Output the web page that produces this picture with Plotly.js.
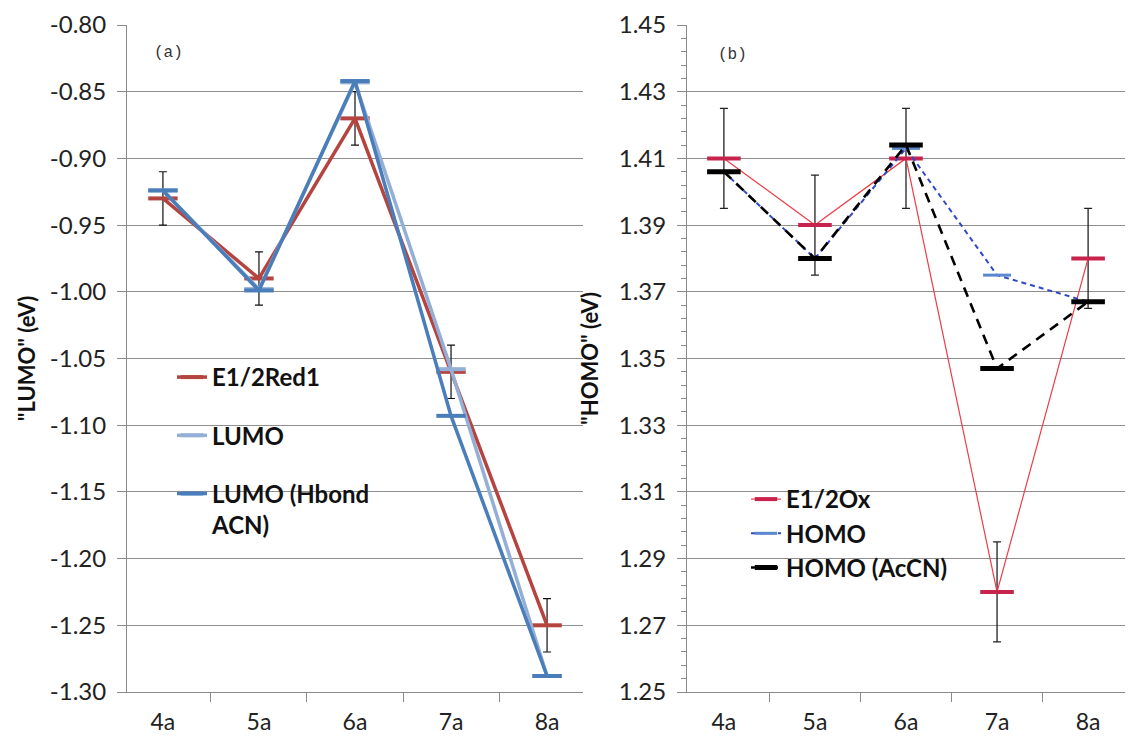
<!DOCTYPE html>
<html>
<head>
<meta charset="utf-8">
<script src="https://cdn.plot.ly/plotly-3.0.1.min.js"></script>
<style>html,body{margin:0;padding:0;background:#fff;}#chart{width:1128px;height:736px;}</style>
</head>
<body>
<div id="chart"></div>
<script>
// ---- data ----
var categories = ['4a', '5a', '6a', '7a', '8a'];
// panel (a)
var e12Red1 = [-0.93, -0.99, -0.87, -1.06, -1.25];
var e12Red1Err = [0.02, 0.02, 0.02, 0.02, 0.02];
var lumo = [-0.924, -0.998, -0.843, -1.058, -1.288];
var lumoHbond = [-0.924, -0.999, -0.842, -1.093, -1.288];
// panel (b)
var e12Ox = [1.41, 1.39, 1.41, 1.28, 1.38];
var e12OxErr = [0.015, 0.015, 0.015, 0.015, 0.015];
var homo = [1.406, 1.380, 1.413, 1.375, 1.367];
var homoAcCN = [1.406, 1.380, 1.414, 1.347, 1.367];
// tick labels
var leftTickVals = [-1.30, -1.25, -1.20, -1.15, -1.10, -1.05, -1.00, -0.95, -0.90, -0.85, -0.80];
var leftTickText = ['-1.30', '-1.25', '-1.20', '-1.15', '-1.10', '-1.05', '-1.00', '-0.95', '-0.90', '-0.85', '-0.80'];
var rightTickVals = [1.25, 1.27, 1.29, 1.31, 1.33, 1.35, 1.37, 1.39, 1.41, 1.43, 1.45];
var rightTickText = ['1.25', '1.27', '1.29', '1.31', '1.33', '1.35', '1.37', '1.39', '1.41', '1.43', '1.45'];
var seriesNames = ['E1/2Red1', 'LUMO', 'LUMO (Hbond<br>ACN)', 'E1/2Ox', 'HOMO', 'HOMO (AcCN)'];

// ---- geometry (pixels) ----
var W = 1128, H = 736;
function px(x) { return x / W; }
function py(y) { return 1 - y / H; }

var FONT = 'Lato, "Open Sans", sans-serif';
var MONO = '"Liberation Mono", "DejaVu Sans Mono", monospace';
var axisGrey = '#8a8a8a';

var traces = [
  {
    x: categories, y: e12Red1, name: seriesNames[0], type: 'scatter', mode: 'lines+markers',
    xaxis: 'x', yaxis: 'y', legend: 'legend', legendgroup: 'a1',
    line: {color: '#B5443F', width: 3.5},
    marker: {symbol: 'line-ew', size: 21, color: '#B5443F', line: {color: '#B5443F', width: 4}},
    error_y: {type: 'data', array: e12Red1Err, visible: true, color: '#111', thickness: 1.2, width: 4}
  },
  {
    x: categories, y: lumo, name: seriesNames[1], type: 'scatter', mode: 'lines+markers',
    xaxis: 'x', yaxis: 'y', legend: 'legend', legendgroup: 'a2',
    line: {color: '#93AFD6', width: 3.5},
    marker: {symbol: 'line-ew', size: 21, color: '#93AFD6', line: {color: '#93AFD6', width: 4}}
  },
  {
    x: categories, y: lumoHbond, name: seriesNames[2], type: 'scatter', mode: 'lines+markers',
    xaxis: 'x', yaxis: 'y', legend: 'legend', legendgroup: 'a3',
    line: {color: '#4A7EBB', width: 3.5},
    marker: {symbol: 'line-ew', size: 21, color: '#4A7EBB', line: {color: '#4A7EBB', width: 4}}
  },
  {
    x: categories, y: e12Ox, name: seriesNames[3], type: 'scatter', mode: 'lines+markers',
    xaxis: 'x2', yaxis: 'y2', legend: 'legend2',
    line: {color: '#EE3B45', width: 1.2},
    marker: {symbol: 'line-ew', size: 24, color: '#C8234C', line: {color: '#C8234C', width: 4}},
    error_y: {type: 'data', array: e12OxErr, visible: true, color: '#222', thickness: 1.3, width: 4}
  },
  {
    x: categories, y: homo, name: seriesNames[4], type: 'scatter', mode: 'lines+markers',
    xaxis: 'x2', yaxis: 'y2', legend: 'legend2',
    line: {color: '#3048C8', width: 2, dash: '5px,4px'},
    marker: {symbol: 'line-ew', size: 20, color: '#5A88CC', line: {color: '#5A88CC', width: 3}}
  },
  {
    x: categories, y: homoAcCN, name: seriesNames[5], type: 'scatter', mode: 'lines+markers',
    xaxis: 'x2', yaxis: 'y2', legend: 'legend2',
    line: {color: '#000', width: 2.6, dash: '10px,7px'},
    marker: {symbol: 'line-ew', size: 24, color: '#000', line: {color: '#000', width: 5}}
  }
];

function xAxis(domain, anchor) {
  return {
    domain: domain, anchor: anchor, type: 'category',
    tickson: 'boundaries', ticks: 'outside', ticklen: 9, tickcolor: axisGrey, tickwidth: 1,
    ticklabelstandoff: 9,
    showline: true, linecolor: axisGrey, linewidth: 1, showgrid: false,
    tickfont: {family: FONT, size: 23, color: '#222'}, fixedrange: true
  };
}

var yDomain = [py(692), py(25)];

var layout = {
  width: W, height: H,
  margin: {l: 0, r: 0, t: 0, b: 0, pad: 0},
  paper_bgcolor: '#fff', plot_bgcolor: '#fff',
  showlegend: true,
  xaxis: xAxis([px(127), px(583)], 'y'),
  xaxis2: xAxis([px(687), px(1125)], 'y2'),
  yaxis: {
    domain: yDomain, anchor: 'x', range: [-1.30, -0.80],
    tickmode: 'array', tickvals: leftTickVals, ticktext: leftTickText,
    ticks: 'outside', ticklen: 9, tickcolor: axisGrey, ticklabelstandoff: 6,
    showline: true, linecolor: axisGrey, showgrid: true, gridcolor: '#8f8f8f', gridwidth: 1,
    zeroline: false, tickfont: {family: FONT, size: 24, color: '#222'},
    title: {text: '"LUMO" (eV)', font: {family: FONT, size: 22, color: '#111', weight: 'bold'}, standoff: 8},
    automargin: false, fixedrange: true
  },
  yaxis2: {
    domain: yDomain, anchor: 'x2', range: [1.25, 1.45],
    tickmode: 'array', tickvals: rightTickVals, ticktext: rightTickText,
    ticks: 'outside', ticklen: 9, tickcolor: axisGrey, ticklabelstandoff: 6,
    minor: {tickmode: 'linear', dtick: 0.004, tick0: 1.25, ticks: 'outside', ticklen: 5, tickcolor: axisGrey, showgrid: false},
    showline: true, linecolor: axisGrey, showgrid: true, gridcolor: '#8f8f8f', gridwidth: 1,
    zeroline: false, tickfont: {family: FONT, size: 24, color: '#222'},
    title: {text: '"HOMO" (eV)', font: {family: FONT, size: 22, color: '#111', weight: 'bold'}, standoff: 14},
    automargin: false, fixedrange: true
  },
  legend: {
    x: px(172), y: py(355), xanchor: 'left', yanchor: 'top',
    bgcolor: 'rgba(0,0,0,0)', borderwidth: 0,
    traceorder: 'grouped', tracegroupgap: 24, valign: 'top',
    font: {family: FONT, size: 24, color: '#111', weight: 'bold'}
  },
  legend2: {
    x: px(746), y: py(477), xanchor: 'left', yanchor: 'top',
    bgcolor: 'rgba(0,0,0,0)', borderwidth: 0,
    font: {family: FONT, size: 24, color: '#111', weight: 'bold'}
  },
  annotations: [
    {text: '(a)', xref: 'paper', yref: 'paper', x: px(168), y: py(53), xanchor: 'center', yanchor: 'middle',
     showarrow: false, font: {family: MONO, size: 16, color: '#333'}},
    {text: '(b)', xref: 'paper', yref: 'paper', x: px(732), y: py(55), xanchor: 'center', yanchor: 'middle',
     showarrow: false, font: {family: MONO, size: 16, color: '#333'}}
  ]
};

Plotly.newPlot('chart', traces, layout, {staticPlot: true, displayModeBar: false});
</script>
</body>
</html>
